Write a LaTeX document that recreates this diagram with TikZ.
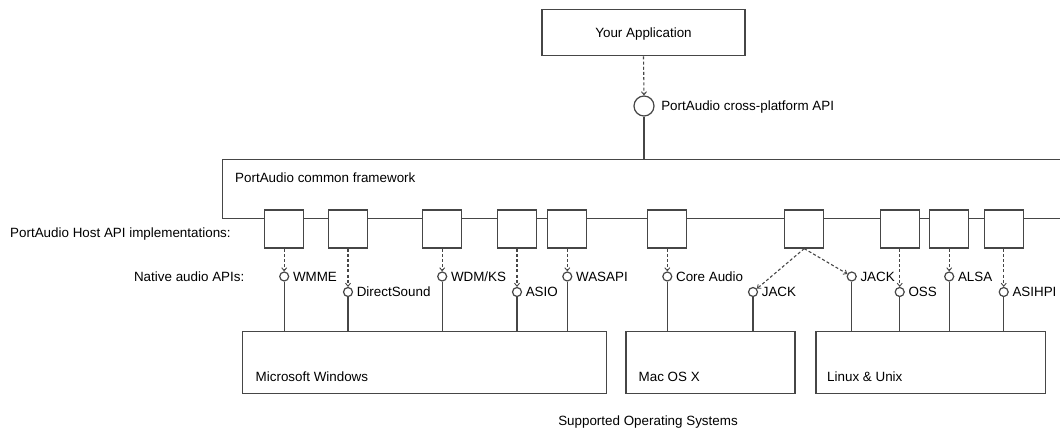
\documentclass[tikz,border=0pt]{standalone}
\usepackage{fontspec}
\setmainfont{Liberation Sans}
\usetikzlibrary{arrows.meta}
\definecolor{ln}{RGB}{70,70,70}
\tikzset{
  txt/.style={font=\fontsize{13.4}{15}\selectfont, inner sep=1.5pt, text height=9.4pt, text depth=0pt},
  box/.style={draw=ln, line width=1.2pt, fill=white, rectangle, inner sep=0pt},
  hostbox/.style={box, minimum width=39pt, minimum height=38pt},
  osbox/.style={box, minimum height=61.5pt},
  port/.style={draw=ln, line width=1.2pt, fill=white, circle, minimum size=9pt, inner sep=0pt},
  bigport/.style={port, minimum size=20pt},
  dasharr/.style={draw=ln, line width=1.1pt, dash pattern=on 3pt off 2.2pt, -{Straight Barb[length=3pt,width=5pt,line width=0.9pt]}},
  conn/.style={draw=ln, line width=1.2pt},
  plabel/.style={txt, anchor=west, xshift=2pt}
}
\begin{document}
\begin{tikzpicture}[x=1pt,y=-1pt]
\useasboundingbox[fill=white] (0,0) rectangle (1060,436);

% application
\node[box, minimum width=203pt, minimum height=46.5pt] (app) at (643.5,32.5) {};
\node[txt] (appt) at (app.center) {Your Application};
\node[bigport] (api) at (644,106) {};
\node[plabel, xshift=3pt] (apil) at (api.east) {PortAudio cross-platform API};
\draw[dasharr] (app.south) -- (api.north);

% framework
\node[box, fill=none, anchor=north west, minimum width=860pt, minimum height=59pt] (fw) at (222,159) {};
\node[txt, anchor=west] (fwl) at (233.5,178) {PortAudio common framework};
\draw[conn] (api.south) -- (api |- fw.north);

% left labels
\node[txt, anchor=west] (hostl) at (8.5,233) {PortAudio Host API implementations:};
\node[txt, anchor=east] (natl) at (246,276.5) {Native audio APIs:};

% host api boxes
\foreach \n/\x in {h1/284.2, h2/348, h3/442.2, h4/517, h5/567.3, h6/667.3, h7/804.2, h8/899.7, h9/949.2, h10/1003.7}
  \node[hostbox] (\n) at (\x,229) {};

% OS boxes
\node[osbox, minimum width=364.4pt] (win) at (424.5,362.5) {};
\node[osbox, minimum width=169pt] (mac) at (710.5,362.5) {};
\node[osbox, minimum width=229.7pt] (lin) at (930.85,362.5) {};
\node[txt, anchor=west] (winl) at (254,377) {Microsoft Windows};
\node[txt, anchor=west] (macl) at (637,377) {Mac OS X};
\node[txt, anchor=west] (linl) at (825.5,377) {Linux \& Unix};

% native API ports
\node[port] (wmme) at (284.2,276.5) {};
\node[port] (ds) at (348,292) {};
\node[port] (wdm) at (442.2,276.5) {};
\node[port] (asio) at (517,292) {};
\node[port] (wasapi) at (567.3,276.5) {};
\node[port] (core) at (667.3,276.5) {};
\node[port] (jackm) at (753,292) {};
\node[port] (jackl) at (851.7,276.5) {};
\node[port] (oss) at (899.7,292) {};
\node[port] (alsa) at (949.2,276.5) {};
\node[port] (asihpi) at (1003.7,292) {};

\node[plabel] (wmmel) at (wmme.east) {WMME};
\node[plabel] (dsl) at (ds.east) {DirectSound};
\node[plabel] (wdml) at (wdm.east) {WDM/KS};
\node[plabel] (asiol) at (asio.east) {ASIO};
\node[plabel] (wasapil) at (wasapi.east) {WASAPI};
\node[plabel] (corel) at (core.east) {Core Audio};
\node[plabel] (jackml) at (jackm.east) {JACK};
\node[plabel] (jackll) at (jackl.east) {JACK};
\node[plabel] (ossl) at (oss.east) {OSS};
\node[plabel] (alsal) at (alsa.east) {ALSA};
\node[plabel] (asihpil) at (asihpi.east) {ASIHPI};

% dashed dependencies
\draw[dasharr] (h1.south) -- (wmme.north);
\draw[dasharr] (h2.south) -- (ds.north);
\draw[dasharr] (h3.south) -- (wdm.north);
\draw[dasharr] (h4.south) -- (asio.north);
\draw[dasharr] (h5.south) -- (wasapi.north);
\draw[dasharr] (h6.south) -- (core.north);
\draw[dasharr] (h7.south) -- (jackm);
\draw[dasharr] (h7.south) -- (jackl);
\draw[dasharr] (h8.south) -- (oss.north);
\draw[dasharr] (h9.south) -- (alsa.north);
\draw[dasharr] (h10.south) -- (asihpi.north);

% solid links to OS
\draw[conn] (wmme.south) -- (wmme |- win.north);
\draw[conn] (ds.south) -- (ds |- win.north);
\draw[conn] (wdm.south) -- (wdm |- win.north);
\draw[conn] (asio.south) -- (asio |- win.north);
\draw[conn] (wasapi.south) -- (wasapi |- win.north);
\draw[conn] (core.south) -- (core |- mac.north);
\draw[conn] (jackm.south) -- (jackm |- mac.north);
\draw[conn] (jackl.south) -- (jackl |- lin.north);
\draw[conn] (oss.south) -- (oss |- lin.north);
\draw[conn] (alsa.south) -- (alsa |- lin.north);
\draw[conn] (asihpi.south) -- (asihpi |- lin.north);

\node[txt] (sos) at (648,421) {Supported Operating Systems};
\end{tikzpicture}
\end{document}
